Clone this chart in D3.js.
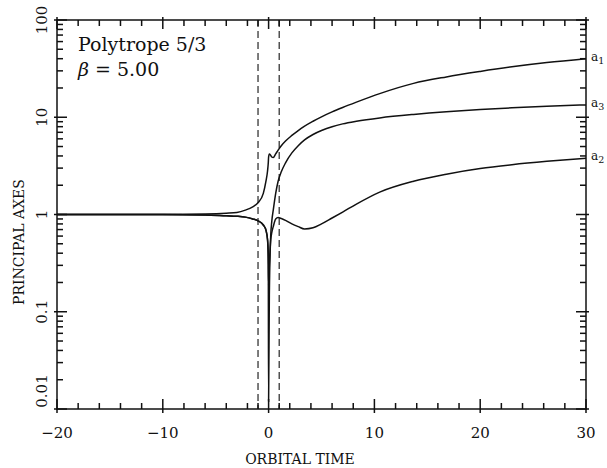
<!DOCTYPE html>
<html>
<head>
<meta charset="utf-8">
<script src="https://cdn.jsdelivr.net/npm/d3@7"></script>
<style>
  body { margin: 0; background: #fff; }
  text { font-family: "DejaVu Serif", "Liberation Serif", serif; fill: #111; }
</style>
</head>
<body>
<svg id="chart"></svg>
<script>
// orbital time samples shared by the three axes
const times = [-20, -15, -10, -6, -4, -3, -2.2, -1.5, -1.0, -0.5, -0.25, -0.1, -0.03, 0, 0.07, 0.2, 0.3, 0.44, 0.67, 0.9, 1.2, 1.6, 2.2, 2.8, 3.4, 4.2, 5, 6, 7, 8.3, 10.5, 13.7, 16.8, 20, 23, 26.3, 30];
const a1 = [1.0, 1.0, 1.0, 1.01, 1.03, 1.05, 1.11, 1.2, 1.32, 1.65, 2.2, 2.8, 3.4, 3.9, 4.2, 4.05, 3.9, 3.85, 4.2, 4.6, 5.1, 5.7, 6.5, 7.3, 8.1, 9.1, 10.1, 11.35, 12.6, 14.3, 17.5, 22.3, 26.0, 29.6, 33.0, 36.5, 40.0];
const a2 = [1.0, 1.0, 1.0, 0.99, 0.97, 0.96, 0.94, 0.9, 0.86, 0.78, 0.69, 0.55, 0.4, 0.19, 0.3, 0.55, 0.65, 0.75, 0.9, 0.93, 0.91, 0.87, 0.8, 0.75, 0.71, 0.73, 0.8, 0.92, 1.06, 1.28, 1.7, 2.2, 2.6, 2.97, 3.25, 3.52, 3.79];
const a3 = [1.0, 1.0, 1.0, 0.99, 0.97, 0.96, 0.94, 0.9, 0.86, 0.78, 0.69, 0.55, 0.3, 0.012, 0.15, 0.6, 0.85, 1.11, 1.65, 2.2, 2.75, 3.4, 4.3, 5.1, 5.85, 6.65, 7.3, 8.0, 8.55, 9.1, 9.85, 10.7, 11.4, 12.0, 12.5, 13.0, 13.4];
const seriesNames = ["1", "3", "2"];
const seriesValues = [a1, a3, a2];

const xTicks = [-20, -10, 0, 10, 20, 30];
const xTickLabels = ["\u221220", "\u221210", "0", "10", "20", "30"];
const yTicks = [0.01, 0.1, 1, 10, 100];
const yTickLabels = ["0.01", "0.1", "1", "10", "100"];
const pericentreMarks = [-1, 1];

const width = 607, height = 468;
const mLeft = 57, mRight = 586, mTop = 20, mBottom = 409;

const svg = d3.select("#chart").attr("width", width).attr("height", height);

const x = d3.scaleLinear().domain([-20, 30]).range([mLeft, mRight]);
const y = d3.scaleLog().domain([0.01, 100]).range([mBottom, mTop]);

// minor ticks
const xMinor = d3.range(-20, 31, 2).filter(d => d % 10 !== 0).concat(pericentreMarks);
const yMinor = [];
[0.01, 0.1, 1, 10].forEach(dec => { for (let k = 2; k < 10; k++) yMinor.push(dec * k); });

const ticks = svg.append("g");

function tick(x1, y1, x2, y2) {
  ticks.append("line")
    .attr("x1", x1).attr("y1", y1).attr("x2", x2).attr("y2", y2)
    .attr("stroke", "#111").attr("stroke-width", 1.5);
}

// bottom + top
xMinor.forEach(d => {
  tick(x(d), mBottom, x(d), mBottom - 6);
  tick(x(d), mTop, x(d), mTop + 6);
});
xTicks.forEach(d => {
  tick(x(d), mBottom + 4, x(d), mBottom - 10);
  tick(x(d), mTop - 3, x(d), mTop + 9);
});
// left + right
yMinor.forEach(d => {
  tick(mLeft, y(d), mLeft + 6, y(d));
  tick(mRight, y(d), mRight - 6, y(d));
});
yTicks.forEach(d => {
  tick(mLeft - 3, y(d), mLeft + 10, y(d));
  tick(mRight + 3, y(d), mRight - 10, y(d));
});

// frame
svg.append("rect")
  .attr("x", mLeft).attr("y", mTop)
  .attr("width", mRight - mLeft).attr("height", mBottom - mTop)
  .attr("fill", "none").attr("stroke", "#111").attr("stroke-width", 1.5);

// dashed pericentre passage lines
svg.selectAll(".peri")
  .data(pericentreMarks)
  .enter().append("line")
  .attr("x1", d => x(d)).attr("x2", d => x(d))
  .attr("y1", mTop).attr("y2", mBottom)
  .attr("stroke", "#111").attr("stroke-width", 1.1)
  .attr("stroke-dasharray", "7,4");

// curves
const line = d3.line()
  .x((d, i) => x(times[i]))
  .y(d => y(d))
  .curve(d3.curveMonotoneX);

svg.selectAll(".axis-curve")
  .data(seriesValues)
  .enter().append("path")
  .attr("d", d => line(d))
  .attr("fill", "none")
  .attr("stroke", "#111")
  .attr("stroke-width", 1.5);

// curve labels on the right
seriesValues.forEach((vals, i) => {
  const t = svg.append("text")
    .attr("x", mRight + 5)
    .attr("y", y(vals[vals.length - 1]) + 2)
    .attr("font-size", 12)
    .attr("font-family", "Liberation Sans, Arial, sans-serif");
  t.append("tspan").text("a");
  t.append("tspan").attr("dy", 3).attr("font-size", 9.5).text(seriesNames[i]);
});

// x tick labels
svg.selectAll(".xl")
  .data(xTicks)
  .enter().append("text")
  .attr("x", d => x(d))
  .attr("y", 438)
  .attr("text-anchor", "middle")
  .attr("font-size", 15)
  .text((d, i) => xTickLabels[i]);

// y tick labels (rotated)
svg.selectAll(".yl")
  .data(yTicks)
  .enter().append("text")
  .attr("transform", d => `translate(47,${y(d) - (d === 0.01 ? 18 : 0)}) rotate(-90)`)
  .attr("text-anchor", "middle")
  .attr("font-size", 15)
  .text((d, i) => yTickLabels[i]);

// axis titles
svg.append("text")
  .attr("x", 300).attr("y", 464)
  .attr("text-anchor", "middle")
  .attr("font-size", 14)
  .text("ORBITAL TIME");

svg.append("text")
  .attr("transform", "translate(24,242) rotate(-90)")
  .attr("text-anchor", "middle")
  .attr("font-size", 14)
  .text("PRINCIPAL AXES");

// model annotation
svg.append("text").attr("x", 78).attr("y", 51).attr("font-size", 19).text("Polytrope 5/3");
const b = svg.append("text").attr("x", 78).attr("y", 76).attr("font-size", 19);
b.append("tspan").attr("font-style", "italic").text("\u03b2");
b.append("tspan").attr("xml:space", "preserve").text(" = 5.00");
</script>
</body>
</html>
